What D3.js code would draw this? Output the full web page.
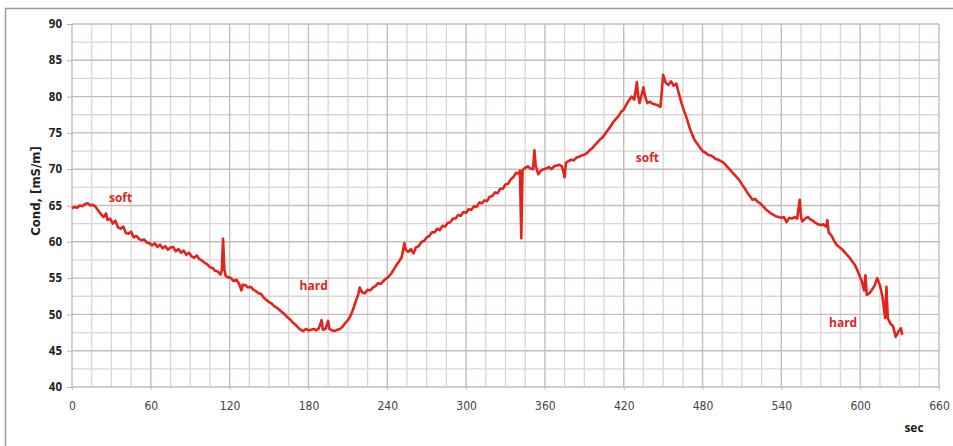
<!DOCTYPE html>
<html>
<head>
<meta charset="utf-8">
<script src="https://cdn.jsdelivr.net/npm/d3@7"></script>
<style>
  body { margin: 0; background: #fff; }
  .ylab text { font-family: "Open Sans", sans-serif; font-weight: bold; font-size: 11.5px; fill: #222; }
  .xlab text { font-family: "DejaVu Sans Condensed", "DejaVu Sans", sans-serif; font-size: 12px; fill: #444; }
</style>
</head>
<body>
<div id="chart"></div>
<script>
// conductivity trace
const times = [0,2,4,6,8,10,12,14,16,18,20,22,24,26,27,29,31,33,35,37,39,41,43,45,47,49,51,53,55,57,59,
  61,63,65,67,69,71,73,75,77,79,81,83,85,87,89,91,93,95,97,99,101,103,105,107,109,111,113,114,115,116,117,119,
  121,123,125,127,129,130,132,134,136,138,140,142,144,146,148,150,152,154,156,158,160,162,164,166,168,170,172,174,176,178,
  180,182,184,186,188,190,191,193,195,196,198,200,202,204,206,208,210,212,214,216,218,219,221,223,225,227,229,231,233,235,237,239,
  241,243,245,247,249,251,253,254,256,258,260,262,264,266,268,270,272,274,276,278,280,282,284,286,288,290,292,294,296,298,
  300,302,304,306,308,310,312,314,316,318,320,322,324,326,328,330,332,334,336,338,340,341,342,343,345,347,349,351,352,353,355,357,359,
  361,363,365,367,369,371,373,375,376,378,380,382,384,386,388,390,392,394,396,398,400,402,404,406,408,410,412,414,416,418,
  420,422,424,426,428,430,431,432,434,435,436,438,440,442,444,446,448,450,452,454,456,458,460,462,464,466,468,470,472,474,476,478,
  480,482,484,486,488,490,492,494,496,498,500,502,504,506,508,510,512,514,516,518,520,522,524,526,528,530,532,534,536,538,
  540,542,544,546,548,550,552,554,555,556,558,560,562,564,566,568,570,572,574,575,576,578,580,582,584,586,588,590,592,594,596,598,
  600,601,603,604,605,607,609,611,613,615,617,619,620,621,623,625,627,629,631,632];
const cond = [64.6,64.8,64.7,65.0,64.9,65.2,65.3,65.0,65.1,64.8,64.3,
  63.8,63.4,63.9,63.0,63.2,62.5,62.9,62.0,61.8,62.1,61.2,61.1,61.4,60.6,60.8,60.4,60.2,60.3,59.9,59.8,
  59.5,59.8,59.3,59.6,59.1,59.4,58.9,59.2,59.3,58.7,59.0,58.5,58.8,58.2,58.5,58.0,57.8,58.1,57.6,57.4,57.1,56.9,56.5,56.4,56.0,55.9,55.5,56.0,60.4,56.2,55.3,55.1,
  55.0,54.6,54.8,54.3,53.3,54.1,54.0,53.7,53.8,53.4,53.2,52.9,52.8,52.3,52.0,51.7,51.5,51.1,50.9,50.6,50.3,50.0,49.6,49.3,48.9,48.6,48.2,47.9,47.7,48.0,
  47.8,47.9,48.0,47.8,48.1,49.2,47.9,48.0,49.1,48.0,47.8,47.7,47.9,48.0,48.3,48.8,49.2,49.8,50.7,51.8,52.8,53.7,53.0,52.9,53.4,53.3,53.7,53.9,54.3,54.2,54.6,54.9,
  55.2,55.6,56.2,56.8,57.3,57.9,59.8,58.9,
  58.6,59.0,58.4,59.3,59.4,60.0,60.1,60.6,60.8,61.3,61.3,61.8,61.6,62.2,62.1,62.6,62.7,63.2,63.2,63.7,63.6,64.1,
  64.0,64.5,64.4,64.9,64.8,65.4,65.3,65.7,65.6,66.2,66.3,66.8,66.7,67.3,67.3,67.9,68.0,68.6,68.9,69.5,69.4,
  69.8,60.5,69.9,70.2,70.4,70.1,70.0,72.6,70.5,69.3,69.8,70.0,
  70.1,70.3,70.0,70.4,70.5,70.6,70.4,68.9,70.9,71.1,71.3,71.2,71.6,71.7,71.9,72.0,72.2,72.6,72.9,73.3,73.7,74.1,74.4,74.9,75.4,75.9,76.5,76.9,77.3,77.9,
  78.2,78.9,79.5,80.0,79.6,82.0,80.1,79.1,80.5,81.3,80.2,79.1,79.3,79.0,78.9,78.8,78.6,83.0,81.9,81.6,82.1,81.5,81.8,80.4,79.1,78.0,77.0,75.8,74.8,74.0,73.5,73.0,
  72.5,72.3,72.0,71.9,71.7,71.4,71.3,71.1,70.9,70.5,70.1,69.7,69.3,68.9,68.5,67.9,67.4,66.8,66.3,65.8,65.9,65.5,65.3,64.9,64.5,64.2,63.9,63.7,63.5,63.4,
  63.3,63.4,62.7,63.3,63.2,63.4,63.2,65.8,63.3,62.8,63.2,63.4,63.1,62.9,62.6,62.4,62.3,62.4,62.1,63.0,61.3,60.9,60.2,59.6,59.3,59.0,58.6,58.2,57.8,57.3,56.8,56.0,
  55.1,54.7,53.3,55.4,52.7,52.9,53.4,54.0,55.0,54.0,52.4,49.5,53.8,49.5,48.7,48.4,46.9,47.6,48.1,47.2];

const xTicks = [0, 60, 120, 180, 240, 300, 360, 420, 480, 540, 600, 660];
const yTicks = [40, 45, 50, 55, 60, 65, 70, 75, 80, 85, 90];
const noteText = ["soft", "hard", "soft", "hard"];
const noteT = [37, 184, 438, 587];
const noteV = [65.5, 53.4, 71.0, 48.3];

const W = 953, H = 446;
const margin = {top: 24, right: 14, bottom: 59, left: 72};
const width = W - margin.left - margin.right,
      height = H - margin.top - margin.bottom;

const svg = d3.select("#chart").append("svg")
    .attr("width", W).attr("height", H);

// outer frame
svg.append("path")
    .attr("d", "M5.5," + H + "V8.5H" + W)
    .attr("fill", "none").attr("stroke", "#9a9a9a").attr("stroke-width", 1.5);

const g = svg.append("g")
    .attr("transform", "translate(" + margin.left + "," + margin.top + ")");

const x = d3.scaleLinear().domain([0, 660]).range([0, width]);
const y = d3.scaleLinear().domain([40, 90]).range([height, 0]);

// minor grid first, then the major lines on top
const gx = d3.range(0, 661, 15), gy = d3.range(40, 90.1, 2.5);
g.selectAll(".vmin").data(gx.filter(d => d % 60 != 0)).enter().append("line")
    .attr("x1", d => x(d)).attr("x2", d => x(d)).attr("y1", 0).attr("y2", height)
    .attr("stroke", "#dcd5d5").attr("stroke-width", 1.3);
g.selectAll(".hmin").data(gy.filter(d => d % 5 != 0)).enter().append("line")
    .attr("y1", d => y(d)).attr("y2", d => y(d)).attr("x1", 0).attr("x2", width)
    .attr("stroke", "#dcd5d5").attr("stroke-width", 1.3);
g.selectAll(".vmaj").data(xTicks).enter().append("line")
    .attr("x1", d => x(d)).attr("x2", d => x(d)).attr("y1", 0).attr("y2", height)
    .attr("stroke", "#c6bbbb").attr("stroke-width", 1.4);
g.selectAll(".hmaj").data(yTicks).enter().append("line")
    .attr("y1", d => y(d)).attr("y2", d => y(d)).attr("x1", 0).attr("x2", width)
    .attr("stroke", "#c6bbbb").attr("stroke-width", 1.4);

g.append("g").attr("class", "ylab")
    .call(d3.axisLeft(y).tickValues(yTicks).tickSize(5).tickPadding(5))
    .call(a => a.select(".domain").remove())
    .call(a => a.selectAll("line").attr("stroke", "#b8b0b0"));

g.append("g").attr("class", "xlab")
    .attr("transform", "translate(0," + height + ")")
    .call(d3.axisBottom(x).tickValues(xTicks).tickSize(3).tickPadding(11))
    .call(a => a.select(".domain").remove())
    .call(a => a.selectAll("line").attr("stroke", "#c6bbbb"));

const pts = times.map((t, i) => [t, cond[i]]);
g.append("path")
    .datum(pts)
    .attr("fill", "none")
    .attr("stroke", "#e3241c")
    .attr("stroke-width", 2.6)
    .attr("stroke-linejoin", "round")
    .attr("d", d3.line().x(d => x(d[0])).y(d => y(d[1])));

g.selectAll(".note").data(noteText).enter().append("text")
    .attr("x", (d, i) => x(noteT[i]))
    .attr("y", (d, i) => y(noteV[i]))
    .attr("text-anchor", "middle")
    .style("font-family", "Open Sans, sans-serif")
    .style("font-weight", "bold")
    .style("font-size", "12px")
    .style("fill", "#e3241c")
    .text(d => d);

svg.append("text")
    .attr("transform", "translate(40,191) rotate(-90)")
    .attr("text-anchor", "middle")
    .style("font-family", "'Liberation Sans Narrow', 'DejaVu Sans Condensed', sans-serif")
    .style("font-weight", "bold")
    .style("font-size", "13px")
    .style("fill", "#222")
    .text("Cond, [mS/m]");

svg.append("text")
    .attr("x", 914).attr("y", 432)
    .attr("text-anchor", "middle")
    .style("font-family", "Open Sans, sans-serif")
    .style("font-weight", "bold")
    .style("font-size", "12px")
    .style("fill", "#222")
    .text("sec");
</script>
</body>
</html>
